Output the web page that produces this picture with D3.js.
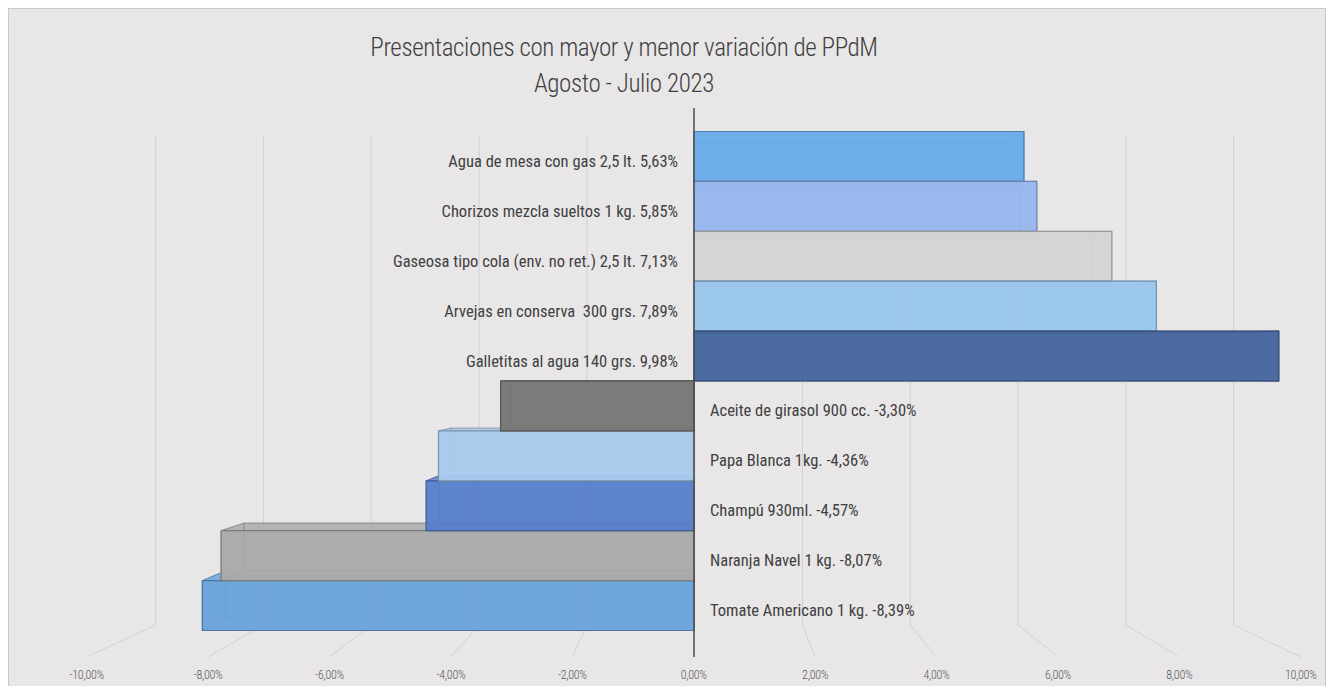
<!DOCTYPE html>
<html><head><meta charset="utf-8">
<script src="https://cdn.jsdelivr.net/npm/d3@7"></script>
<style>
html,body{margin:0;padding:0;background:#fff;}
svg{display:block;}
text{font-family:"Liberation Sans Narrow","Arial Narrow","Roboto Condensed","DejaVu Sans Condensed",sans-serif;white-space:pre;}
</style>
</head><body>
<svg id="chart" width="1334" height="686"></svg>
<script>
const titleLines = ["Presentaciones con mayor y menor variación de PPdM", "Agosto - Julio 2023"];
const categories = ["Agua de mesa con gas 2,5 lt.", "Chorizos mezcla sueltos 1 kg.", "Gaseosa tipo cola (env. no ret.) 2,5 lt.", "Arvejas en conserva  300 grs.", "Galletitas al agua 140 grs.", "Aceite de girasol 900 cc.", "Papa Blanca 1kg.", "Champú 930ml.", "Naranja Navel 1 kg.", "Tomate Americano 1 kg."];
const values = [5.63, 5.85, 7.13, 7.89, 9.98, -3.30, -4.36, -4.57, -8.07, -8.39];
const barColors = ["#68aceb", "#98b6f0", "#d4d4d4", "#9ac6ee", "#46669f", "#777777", "#a8caec", "#5980cb", "#aaaaaa", "#6aa3db"];
const tickValues = [-10, -8, -6, -4, -2, 0, 2, 4, 6, 8, 10];

const locale = d3.formatLocale({decimal: ",", thousands: ".", grouping: [3], currency: ["", "€"], minus: "-", percent: "%"});
const pct = locale.format(".2%");

const svg = d3.select("#chart");

// background frame
svg.append("rect").attr("x", 8.5).attr("y", 8.5).attr("width", 1317).attr("height", 700)
  .attr("fill", "#e8e6e7").attr("stroke", "#c9c9c9");

// scales
const x0 = 694, cy = 373, k = 0.952;
const xFront = d3.scaleLinear().domain([-10, 10]).range([694 - 586, 694 + 586]);
const xWall = d3.scaleLinear().domain([-10, 10]).range([155.7, 1233.7]);
const xFloor = d3.scaleLinear().domain([-10, 10]).range([86.7, 1300.7]);
const y = d3.scaleBand().domain(categories).range([131.5, 630.5]).padding(0);
const wallTop = 135, wallBottom = 625, floorFront = 657;

// back wall gridlines
svg.append("g").selectAll("line").data(tickValues).join("line")
  .attr("x1", d => xWall(d)).attr("x2", d => xWall(d))
  .attr("y1", wallTop).attr("y2", wallBottom)
  .attr("stroke", "#d3d1d2").attr("stroke-width", 1);
// floor lines
svg.append("g").selectAll("line").data(tickValues).join("line")
  .attr("x1", d => xWall(d)).attr("x2", d => xFloor(d))
  .attr("y1", wallBottom).attr("y2", floorFront)
  .attr("stroke", "#d3d1d2").attr("stroke-width", 1);

// tick labels
svg.append("g").selectAll("text").data(tickValues).join("text")
  .attr("x", d => xFloor(d)).attr("y", 675)
  .attr("text-anchor", "middle").attr("dominant-baseline", "central")
  .attr("font-size", 12).attr("fill", "#595959").attr("font-weight", 300)
  .attr("letter-spacing", -0.3)
  .text(d => pct(d / 100));

// bars
const back = p => [x0 + (p[0] - x0) * k, cy + (p[1] - cy) * k];
const line = d3.line();
const order = [0, 1, 2, 3, 4, 9, 8, 7, 6, 5];
const gBars = svg.append("g");
order.forEach(i => {
  const v = values[i];
  const c = barColors[i];
  const sc = d3.color(c).darker(0.9).formatHex();
  const xv = xFront(v), x00 = xFront(0);
  const t = y(categories[i]), b = t + y.bandwidth();
  const F = [[x00, t], [xv, t], [xv, b], [x00, b]];
  const B = F.map(back);
  const g = gBars.append("g");
  const faces = [B, [F[0], F[1], B[1], B[0]], [F[3], F[2], B[2], B[3]], [F[1], F[2], B[2], B[1]]];
  faces.forEach(f => {
    g.append("path").attr("d", line(f) + "Z")
      .attr("fill", c).attr("fill-opacity", 0.6)
      .attr("stroke", sc).attr("stroke-opacity", 0.55).attr("stroke-width", 1);
  });
  g.append("path").attr("d", line(F) + "Z")
    .attr("fill", c).attr("fill-opacity", 0.9)
    .attr("stroke", sc).attr("stroke-width", 1.2);
});

// zero axis
svg.append("line").attr("x1", xFront(0)).attr("x2", xFront(0))
  .attr("y1", 108).attr("y2", floorFront)
  .attr("stroke", "#4d4d4d").attr("stroke-width", 1.5);

// category labels
svg.append("g").selectAll("text").data(categories).join("text")
  .attr("x", (d, i) => values[i] >= 0 ? 678 : 710)
  .attr("y", d => y(d) + y.bandwidth() / 2 + 5)
  .attr("text-anchor", (d, i) => values[i] >= 0 ? "end" : "start")
  .attr("dominant-baseline", "central")
  .attr("font-size", 16.5).attr("fill", "#404040")
  .text((d, i) => d + " " + pct(values[i] / 100));

// title
svg.append("g").selectAll("text").data(titleLines).join("text")
  .attr("x", 624).attr("y", (d, i) => 47 + i * 36)
  .attr("text-anchor", "middle").attr("dominant-baseline", "central")
  .attr("font-size", 25).attr("font-weight", 300).attr("letter-spacing", -0.4)
  .attr("fill", "#3f3f3f")
  .text(d => d);
</script>
</body></html>
